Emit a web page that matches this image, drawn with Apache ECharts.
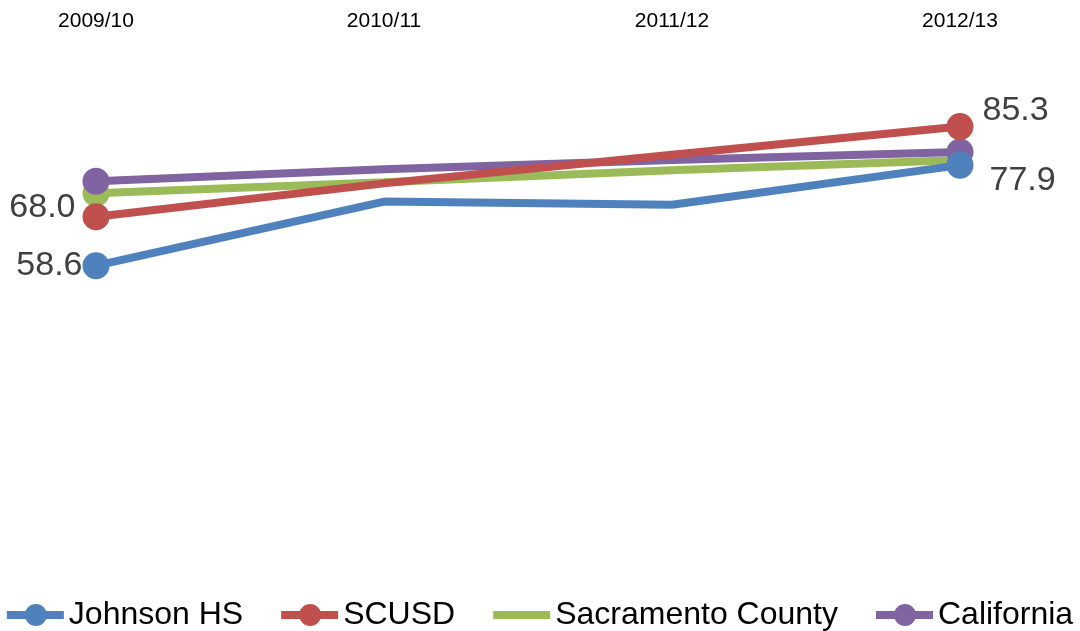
<!DOCTYPE html>
<html>
<head>
<meta charset="utf-8">
<script src="https://cdn.jsdelivr.net/npm/echarts@6/dist/echarts.min.js"></script>
<style>
html,body{margin:0;padding:0;background:#fff;}
#chart{width:1080px;height:631px;}
</style>
</head>
<body>
<div id="chart"></div>
<script>
var categories = ['2009/10', '2010/11', '2011/12', '2012/13'];
var seriesNames = ['Johnson HS', 'SCUSD', 'Sacramento County', 'California'];
var johnson = [58.6, 70.9, 70.3, 77.9];
var scusd = [68.0, 74.4, 79.9, 85.3];
var sacramento = [72.5, 74.6, 76.9, 78.9];
var california = [74.8, 77.1, 78.9, 80.4];
var colors = ['#4F81BD', '#C0504D', '#9BBB59', '#8064A2'];

var FONT = 'Liberation Sans, Arial, sans-serif';
var labelFont = {fontFamily: FONT, fontSize: 34, color: '#404040'};
function fmt(p){ return Number(p.value).toFixed(1); }

var iconLineDot = 'path://M0,8h57v8h-57z M40,12a11,11 0 1 1 -22,0a11,11 0 1 1 22,0z';
var iconLine = 'path://M0,0h57v0.01h-57z M0,8h57v8h-57z M0,23.99h57v0.01h-57z';

function endpoints(arr, labels){
  return arr.map(function(v, i){
    var item = {value: v};
    var isEnd = (i === 0 || i === arr.length - 1);
    item.symbol = isEnd ? 'circle' : 'none';
    if (labels && labels[i]) item.label = labels[i];
    return item;
  });
}

var chart = echarts.init(document.getElementById('chart'));
chart.setOption({
  animation: false,
  grid: {left: 96, right: 120, top: 50, bottom: 60},
  xAxis: {
    type: 'category', position: 'top', boundaryGap: false, data: categories,
    axisLine: {show: false}, axisTick: {show: false}, splitLine: {show: false},
    axisLabel: {color: '#000', fontSize: 21, fontFamily: FONT, margin: 18}
  },
  yAxis: {type: 'value', min: 0, max: 100, show: false},
  legend: {
    top: 594, left: 'center', itemWidth: 57, itemHeight: 24, itemGap: 38,
    textStyle: {fontFamily: FONT, fontSize: 32, color: '#000'},
    data: [
      {name: seriesNames[0], icon: iconLineDot},
      {name: seriesNames[1], icon: iconLineDot},
      {name: seriesNames[2], icon: iconLine},
      {name: seriesNames[3], icon: iconLineDot}
    ]
  },
  series: [
    {
      name: seriesNames[0], type: 'line', z: 5, color: colors[0],
      symbol: 'circle', symbolSize: 27, lineStyle: {width: 8, color: colors[0]},
      itemStyle: {color: colors[0]},
      data: endpoints(johnson, {
        0: Object.assign({show: true, position: 'left', distance: 0, formatter: fmt}, labelFont),
        3: Object.assign({show: true, position: 'right', distance: 16, offset: [0, 15], formatter: fmt}, labelFont)
      })
    },
    {
      name: seriesNames[1], type: 'line', z: 4, color: colors[1],
      symbol: 'circle', symbolSize: 27, lineStyle: {width: 8, color: colors[1]},
      itemStyle: {color: colors[1]},
      data: endpoints(scusd, {
        0: Object.assign({show: true, position: 'left', distance: 7, offset: [0, -9], formatter: fmt}, labelFont),
        3: Object.assign({show: true, position: 'right', distance: 9, offset: [0, -16], formatter: fmt}, labelFont)
      })
    },
    {
      name: seriesNames[2], type: 'line', z: 2, color: colors[2],
      symbol: 'none', lineStyle: {width: 8, color: colors[2]},
      itemStyle: {color: colors[2]},
      data: sacramento,
      markPoint: {
        z: 2, symbol: 'circle', symbolSize: 27, silent: true,
        itemStyle: {color: colors[2]}, label: {show: false},
        data: [{coord: [categories[0], sacramento[0]]}]
      }
    },
    {
      name: seriesNames[3], type: 'line', z: 3, color: colors[3],
      symbol: 'circle', symbolSize: 27, lineStyle: {width: 8, color: colors[3]},
      itemStyle: {color: colors[3]},
      data: endpoints(california, null)
    }
  ]
});
</script>
</body>
</html>
